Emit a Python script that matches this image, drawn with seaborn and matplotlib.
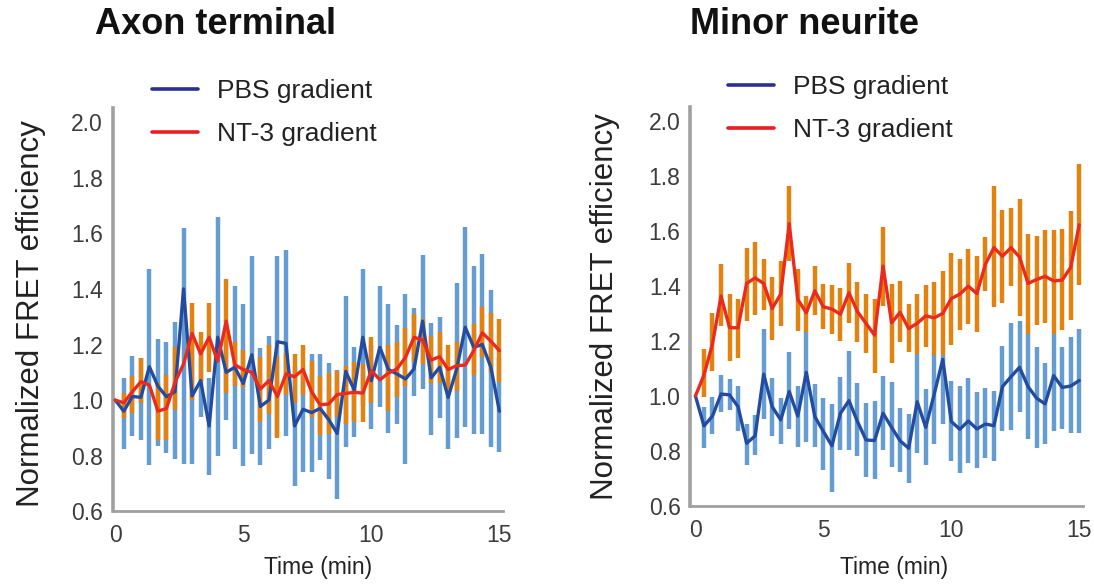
import matplotlib
matplotlib.use('Agg')

import numpy as np
import pandas as pd
import matplotlib.pyplot as plt
import seaborn as sns
from matplotlib.lines import Line2D

nan = np.nan

# sampling every 20 s, 0-15 min
time_min = np.arange(46) / 3

# ---- Axon terminal ----
axon_pbs = [1.0, 0.96, 1.013, 1.01, 1.12, 1.05, 1.012, 1.03, 1.40, 1.015,
            1.07, 0.907, 1.226, 1.10, 1.118, 1.06, 1.163, 0.977, 1.0, 1.21,
            1.204, 0.907, 0.967, 0.955, 0.97, 0.93, 0.88, 1.103, 1.036, 1.226,
            1.07, 1.19, 1.11, 1.094, 1.076, 1.112, 1.284, 1.08, 1.118, 1.01,
            1.112, 1.262, 1.19, 1.2, 1.118, 0.96]
axon_pbs_lo = [nan, 0.825, 0.87, 0.857, 0.767, 0.835, 0.81, 0.787, 0.77, 0.77,
               0.94, 0.73, 0.80, 0.93, 0.825, 0.762, 0.805, 0.766, 0.823, 0.87,
               0.87, 0.69, 0.74, 0.74, 0.784, 0.715, 0.645, 0.83, 0.868, 0.98,
               0.895, 0.974, 0.88, 0.913, 0.77, 1.013, 1.04, 0.874, 0.937, 0.823,
               0.862, 0.904, 0.877, 0.877, 0.833, 0.815]
axon_pbs_hi = [nan, 1.08, 1.16, 1.15, 1.47, 1.22, 1.21, 1.28, 1.62, 1.26,
               1.2, 1.08, 1.66, 1.25, 1.41, 1.344, 1.517, 1.186, 1.23, 1.52,
               1.54, 1.12, 1.1, 1.166, 1.166, 1.135, 1.108, 1.374, 1.19, 1.47,
               1.2, 1.41, 1.346, 1.27, 1.382, 1.33, 1.523, 1.278, 1.298, 1.118,
               1.42, 1.623, 1.484, 1.526, 1.397, 1.15]
axon_nt3 = [1.0, 0.99, 1.03, 1.066, 1.054, 0.96, 0.97, 1.064, 1.13, 1.24,
            1.166, 1.226, 1.14, 1.284, 1.127, 1.11, 1.10, 1.04, 1.07, 1.013,
            1.094, 1.084, 1.11, 1.03, 0.983, 0.986, 1.02, 1.024, 1.028, 1.025,
            1.106, 1.073, 1.097, 1.112, 1.154, 1.226, 1.216, 1.144, 1.156, 1.11,
            1.124, 1.126, 1.178, 1.242, 1.212, 1.178]
axon_nt3_lo = [nan, 0.935, 0.955, 0.99, nan, 0.855, 0.855, 0.964, nan, 1.0,
               1.07, 1.1, nan, 1.024, 1.05, 1.046, nan, 0.92, 0.95, 0.862,
               1.02, 0.99, 1.02, 0.94, 0.874, 0.877, 0.94, 0.913, 0.92, 0.923,
               0.988, nan, 0.96, 1.01, 1.05, 1.136, 1.13, 1.06, 1.06, 1.018,
               1.034, nan, 1.09, 1.154, 1.096, 1.064]
axon_nt3_hi = [nan, 1.025, 1.085, 1.15, nan, 1.06, 1.09, 1.19, nan, 1.35,
               1.245, 1.35, nan, 1.435, 1.21, 1.18, nan, 1.156, 1.2, 1.16,
               1.17, 1.166, 1.2, 1.14, 1.085, 1.096, 1.106, 1.124, 1.138, 1.13,
               1.228, nan, 1.2, 1.208, 1.258, 1.31, 1.29, 1.232, 1.246, 1.2,
               1.21, nan, 1.274, 1.334, 1.313, 1.29]

# ---- Minor neurite ----
minor_pbs = [1.0, 0.891, 0.927, 1.007, 1.004, 0.961, 0.828, 0.855, 1.079, 0.961,
             0.913, 1.016, 0.927, 1.086, 0.925, 0.871, 0.819, 0.937, 0.983, 0.907,
             0.84, 0.838, 0.937, 0.886, 0.837, 0.81, 0.979, 0.886, 1.007, 1.133,
             0.907, 0.879, 0.909, 0.88, 0.898, 0.892, 1.034, 1.07, 1.104, 1.034,
             0.992, 0.971, 1.074, 1.031, 1.036, 1.056]
minor_pbs_lo = [nan, 0.81, 0.862, 0.94, 0.95, 0.873, 0.75, 0.784, 0.915, 0.855,
                0.825, 0.879, 0.816, 0.831, 0.816, 0.732, 0.651, 0.802, 0.802, 0.78,
                0.705, 0.698, 0.802, 0.741, 0.723, 0.683, 0.794, 0.75, 0.826, 0.897,
                0.762, 0.719, 0.756, 0.738, 0.774, 0.762, 0.871, 0.877, 0.94, 0.844,
                0.81, 0.825, 0.873, 0.879, 0.865, 0.865]
minor_pbs_hi = [nan, 0.961, 0.998, 1.076, 1.06, 1.037, 0.897, 0.93, 1.242, 1.064,
                0.994, 1.158, 1.036, 1.233, 1.042, 0.994, 0.971, 1.07, 1.164, 1.046,
                0.976, 0.983, 1.074, 1.05, 0.955, 0.933, 1.152, 1.025, 1.149, 1.149,
                1.054, 1.036, 1.064, 1.013, 1.028, 1.018, 1.183, 1.264, 1.273, 1.227,
                1.179, 1.119, 1.227, 1.177, 1.215, 1.245]
minor_nt3 = [1.0, 1.076, 1.189, 1.363, 1.248, 1.248, 1.409, 1.429, 1.409, 1.318,
             1.37, 1.626, 1.351, 1.302, 1.382, 1.324, 1.316, 1.297, 1.375, 1.306,
             1.264, 1.221, 1.472, 1.266, 1.304, 1.245, 1.264, 1.291, 1.284, 1.3,
             1.354, 1.37, 1.399, 1.372, 1.479, 1.539, 1.508, 1.539, 1.505, 1.409,
             1.423, 1.435, 1.418, 1.421, 1.467, 1.622]
minor_nt3_lo = [nan, 0.998, 1.092, 1.255, 1.128, 1.139, 1.272, 1.296, 1.314, 1.203,
                1.255, 1.491, 1.237, 1.233, 1.294, 1.243, 1.227, 1.2, 1.266, 1.195,
                1.155, 1.082, 1.328, 1.118, 1.195, 1.158, 1.152, 1.179, 1.149, 1.149,
                1.187, 1.239, 1.261, 1.233, 1.381, 1.324, 1.339, 1.399, 1.29, 1.227,
                1.258, 1.266, 1.227, 1.239, 1.276, 1.403]
minor_nt3_hi = [nan, 1.169, 1.302, 1.478, 1.369, 1.354, 1.539, 1.559, 1.496, 1.433,
                1.491, 1.762, 1.461, 1.363, 1.473, 1.406, 1.403, 1.394, 1.485, 1.415,
                1.369, 1.351, 1.614, 1.406, 1.417, 1.334, 1.369, 1.405, 1.415, 1.453,
                1.52, 1.499, 1.533, 1.509, 1.576, 1.762, 1.675, 1.684, 1.717, 1.59,
                1.582, 1.602, 1.602, 1.605, 1.671, 1.842]

panel_titles = ["Axon terminal", "Minor neurite"]
legend_labels = ["PBS gradient", "NT-3 gradient"]
x_ticks = [0, 5, 10, 15]
y_ticks = [0.6, 0.8, 1.0, 1.2, 1.4, 1.6, 1.8, 2.0]

sns.set_theme(style="white")
plt.rcParams['font.family'] = ['Liberation Sans', 'DejaVu Sans']

BAR_BLUE = '#659dd3'
BAR_ORANGE = '#e4820f'
LINE_BLUE = '#234ca0'
LINE_RED = '#eb2a1e'
SPINE = '#a0a0a0'

fig = plt.figure(figsize=(10.94, 5.85), dpi=100)
ax_l = fig.add_axes([0.103, 0.126, 0.357, 0.689])
ax_r = fig.add_axes([0.631, 0.135, 0.359, 0.682])

panels = [
    (ax_l, axon_pbs, axon_pbs_lo, axon_pbs_hi, axon_nt3, axon_nt3_lo, axon_nt3_hi, (-0.1, 15.15)),
    (ax_r, minor_pbs, minor_pbs_lo, minor_pbs_hi, minor_nt3, minor_nt3_lo, minor_nt3_hi, (-0.2, 15.15)),
]

for ax, pbs, pbs_lo, pbs_hi, nt3, nt3_lo, nt3_hi, xlim in panels:
    df = pd.DataFrame({"time": time_min, "pbs": pbs, "nt3": nt3})
    ax.vlines(time_min, pbs_lo, pbs_hi, color=BAR_BLUE, linewidth=3.2, zorder=1)
    ax.vlines(time_min, nt3_lo, nt3_hi, color=BAR_ORANGE, linewidth=3.2, zorder=2)
    sns.lineplot(data=df, x="time", y="pbs", color=LINE_BLUE, linewidth=2.4, ax=ax, zorder=3)
    sns.lineplot(data=df, x="time", y="nt3", color=LINE_RED, linewidth=2.4, ax=ax, zorder=4)

    ax.set_xlim(*xlim)
    ax.set_ylim(0.6, 2.05)
    ax.set_xticks(x_ticks)
    ax.set_yticks(y_ticks)
    ax.set_yticklabels([f"{v:.1f}" for v in y_ticks])
    for s in ["top", "right"]:
        ax.spines[s].set_visible(False)
    ax.spines["left"].set_color(SPINE)
    ax.spines["left"].set_linewidth(2.6)
    ax.spines["bottom"].set_color(SPINE)
    ax.spines["bottom"].set_linewidth(2.0)
    ax.tick_params(axis='both', labelsize=16.5, colors='#3c3c3c', length=4,
                   width=1.2, color=SPINE, direction='out')
    ax.tick_params(axis='y', pad=3)
    ax.tick_params(axis='x', pad=5)
    ax.set_xlabel("Time (min)", fontsize=16.5, color='#222222')
    ax.set_ylabel("Normalized FRET efficiency", fontsize=22.5, color='#222222')
    ax.grid(False)

ax_l.yaxis.set_label_coords(-0.17, 0.49)
ax_r.yaxis.set_label_coords(-0.18, 0.5)
ax_l.xaxis.set_label_coords(0.525, -0.112)
ax_r.xaxis.set_label_coords(0.52, -0.126)

fig.text(95 / 1094, 1 - 25 / 585, panel_titles[0], fontsize=26, fontweight='bold',
         ha='left', va='center', color='#111111')
fig.text(690 / 1094, 1 - 25 / 585, panel_titles[1], fontsize=26, fontweight='bold',
         ha='left', va='center', color='#111111')

handles = [Line2D([], [], color='#2b3090', linewidth=2.6),
           Line2D([], [], color='#ec1c24', linewidth=2.6)]
for ax, anchor in [(ax_l, (152 / 1094, 1 - 79 / 585)), (ax_r, (728 / 1094, 1 - 75 / 585))]:
    ax.legend(handles, legend_labels, loc='upper left', bbox_to_anchor=anchor,
              bbox_transform=fig.transFigure, frameon=False, fontsize=19,
              handlelength=1.75, handletextpad=0.7, labelspacing=0.72,
              borderpad=0, borderaxespad=0, labelcolor='#222222')

fig.savefig("out.png", dpi=100)
